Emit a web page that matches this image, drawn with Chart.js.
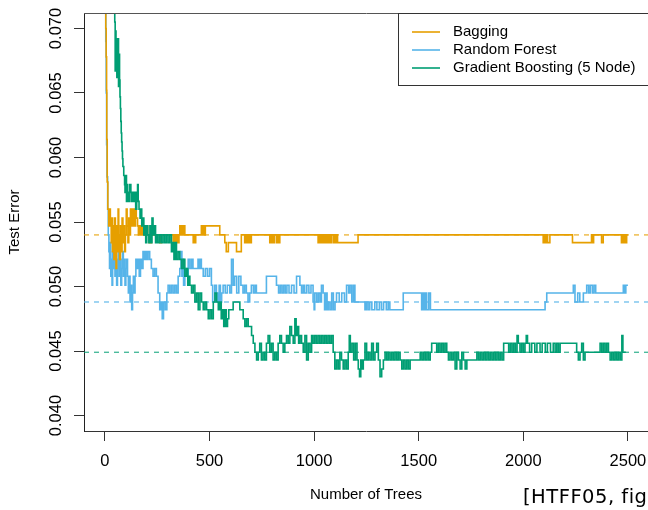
<!DOCTYPE html>
<html>
<head>
<meta charset="utf-8">
<script src="https://cdn.jsdelivr.net/npm/chart.js@4.4.1/dist/chart.umd.min.js"></script>
<style>
  html, body { margin: 0; padding: 0; background: #fff; overflow: hidden; }
</style>
</head>
<body>
<canvas id="errChart" width="648" height="510"></canvas>
<script>
// tick labels
var xTicks = [0, 500, 1000, 1500, 2000, 2500];
var yTicks = [0.040, 0.045, 0.050, 0.055, 0.060, 0.065, 0.070];

var seriesNames = ['Bagging', 'Random Forest', 'Gradient Boosting (5 Node)'];
var seriesColors = ['#E69F00', '#56B4E9', '#009E73'];
var refColors = ['rgba(230,159,0,0.75)', 'rgba(86,180,233,0.8)', 'rgba(0,158,115,0.7)'];
// drawing order: boosting on top, then bagging, random forest underneath
var seriesOrder = [2, 3, 1];

// dashed reference levels
var refLevels = [0.0540, 0.0488, 0.0449];

// [number of trees, test error] - step points
var bagging = [
  [1,0.0780],[4,0.0700],[6,0.0678],[8,0.0652],[9,0.0614],[11,0.0581],[14,0.0560],[18,0.0547],
  [22,0.0560],[26,0.0547],[30,0.0534],[33,0.0553],[36,0.0527],[40,0.0547],[43,0.0521],[46,0.0553],
  [50,0.0534],[53,0.0514],[56,0.0547],[60,0.0527],[63,0.0560],[66,0.0540],[70,0.0521],[74,0.0547],
  [78,0.0527],[82,0.0553],[86,0.0534],[90,0.0547],[94,0.0527],[98,0.0540],[102,0.0560],[106,0.0547],
  [110,0.0534],[114,0.0553],[118,0.0540],[122,0.0560],[126,0.0547],[130,0.0560],[134,0.0547],
  [138,0.0560],[142,0.0547],[146,0.0560],[150,0.0553],[156,0.0547],[160,0.0540],[164,0.0547],
  [168,0.0540],[172,0.0547],[176,0.0540],[182,0.0547],[188,0.0540],[196,0.0547],[204,0.0540],
  [212,0.0534],[222,0.0540],[262,0.0534],[270,0.0540],[326,0.0534],[330,0.0540],[334,0.0534],
  [338,0.0540],[342,0.0534],[346,0.0540],[350,0.0534],[354,0.0540],[358,0.0547],[364,0.0540],
  [368,0.0547],[374,0.0540],[378,0.0547],[382,0.0540],[422,0.0534],[426,0.0540],[430,0.0534],
  [434,0.0540],[461,0.0547],[466,0.0540],[470,0.0547],[475,0.0540],[480,0.0547],[549,0.0540],
  [573,0.0534],[580,0.0527],[590,0.0534],[629,0.0527],[652,0.0540],[668,0.0534],[672,0.0540],
  [676,0.0534],[682,0.0540],[686,0.0534],[692,0.0540],[696,0.0534],[700,0.0540],[788,0.0534],
  [792,0.0540],[796,0.0534],[800,0.0540],[805,0.0534],[810,0.0540],[820,0.0534],[826,0.0540],
  [830,0.0534],[836,0.0540],[1019,0.0534],[1024,0.0540],[1028,0.0534],[1034,0.0540],[1040,0.0534],
  [1046,0.0540],[1052,0.0534],[1058,0.0540],[1064,0.0534],[1070,0.0540],[1076,0.0534],[1082,0.0540],
  [1091,0.0534],[1096,0.0540],[1100,0.0534],[1106,0.0540],[1112,0.0534],[1210,0.0540],[2095,0.0534],
  [2100,0.0540],[2104,0.0534],[2110,0.0540],[2116,0.0534],[2127,0.0540],[2235,0.0534],[2326,0.0540],
  [2330,0.0534],[2336,0.0540],[2374,0.0534],[2382,0.0540],[2469,0.0534],[2474,0.0540],[2480,0.0534],
  [2486,0.0540],[2490,0.0534],[2494,0.0540],[2500,0.0540]
];

var randomForest = [
  [1,0.0800],[4,0.0690],[6,0.0650],[8,0.0610],[10,0.0585],[13,0.0560],[16,0.0540],[19,0.0527],
  [22,0.0514],[25,0.0534],[28,0.0508],[31,0.0521],[34,0.0501],[37,0.0527],[40,0.0514],[44,0.0534],
  [48,0.0508],[52,0.0521],[56,0.0501],[60,0.0514],[64,0.0527],[68,0.0508],[72,0.0521],[76,0.0501],
  [80,0.0514],[84,0.0527],[88,0.0508],[92,0.0521],[96,0.0501],[100,0.0514],[104,0.0521],[108,0.0508],
  [112,0.0495],[116,0.0508],[120,0.0488],[124,0.0501],[128,0.0482],[132,0.0495],[136,0.0508],
  [140,0.0495],[144,0.0508],[148,0.0521],[152,0.0514],[158,0.0521],[164,0.0508],[170,0.0521],
  [176,0.0514],[182,0.0527],[188,0.0521],[194,0.0527],[200,0.0521],[206,0.0527],[214,0.0521],
  [222,0.0514],[230,0.0508],[238,0.0514],[246,0.0508],[254,0.0495],[262,0.0482],[268,0.0488],
  [274,0.0475],[280,0.0488],[288,0.0482],[296,0.0495],[302,0.0501],[310,0.0495],[318,0.0501],
  [326,0.0495],[334,0.0501],[342,0.0495],[350,0.0508],[358,0.0514],[364,0.0527],[368,0.0508],
  [372,0.0521],[376,0.0501],[382,0.0514],[390,0.0508],[398,0.0521],[406,0.0514],[414,0.0521],
  [421,0.0514],[445,0.0521],[452,0.0514],[458,0.0521],[461,0.0514],[470,0.0508],[480,0.0514],
  [490,0.0508],[500,0.0514],[509,0.0501],[515,0.0488],[525,0.0501],[533,0.0495],[540,0.0488],
  [546,0.0501],[552,0.0488],[558,0.0495],[565,0.0501],[575,0.0495],[585,0.0501],[597,0.0495],
  [605,0.0521],[613,0.0501],[620,0.0508],[630,0.0495],[640,0.0508],[650,0.0501],[660,0.0495],
  [668,0.0501],[676,0.0495],[684,0.0488],[692,0.0495],[700,0.0501],[710,0.0495],[718,0.0501],
  [724,0.0495],[772,0.0508],[820,0.0501],[830,0.0495],[838,0.0501],[846,0.0495],[854,0.0501],
  [862,0.0495],[870,0.0501],[880,0.0495],[892,0.0501],[904,0.0495],[916,0.0508],[932,0.0501],
  [940,0.0495],[948,0.0501],[955,0.0495],[965,0.0501],[975,0.0495],[985,0.0501],[995,0.0488],
  [1000,0.0482],[1003,0.0495],[1012,0.0488],[1020,0.0495],[1028,0.0488],[1035,0.0501],[1043,0.0495],
  [1050,0.0482],[1056,0.0495],[1062,0.0482],[1068,0.0488],[1076,0.0482],[1084,0.0495],[1092,0.0482],
  [1100,0.0488],[1107,0.0495],[1120,0.0488],[1132,0.0495],[1145,0.0488],[1155,0.0501],[1165,0.0495],
  [1172,0.0501],[1180,0.0488],[1188,0.0501],[1195,0.0488],[1243,0.0482],[1250,0.0488],[1258,0.0482],
  [1266,0.0488],[1276,0.0482],[1290,0.0488],[1300,0.0482],[1312,0.0488],[1322,0.0482],[1332,0.0488],
  [1345,0.0482],[1354,0.0488],[1362,0.0482],[1426,0.0495],[1514,0.0482],[1520,0.0495],[1526,0.0482],
  [1532,0.0495],[1538,0.0482],[1548,0.0495],[1556,0.0482],[2104,0.0488],[2112,0.0495],[2239,0.0501],
  [2247,0.0488],[2260,0.0495],[2270,0.0488],[2287,0.0495],[2303,0.0501],[2312,0.0495],[2320,0.0501],
  [2330,0.0495],[2338,0.0501],[2346,0.0495],[2478,0.0501],[2484,0.0495],[2490,0.0501],[2500,0.0501]
];

var boosting = [
  [1,0.0850],[30,0.0760],[47,0.0705],[49,0.0667],[51,0.0698],[53,0.0680],[55,0.0692],[57,0.0662],
  [59,0.0686],[61,0.0673],[63,0.0692],[65,0.0655],[67,0.0680],[70,0.0660],[72,0.0647],[74,0.0638],
  [76,0.0628],[78,0.0619],[80,0.0612],[82,0.0605],[84,0.0599],[86,0.0593],[90,0.0586],[94,0.0579],
  [96,0.0573],[100,0.0586],[103,0.0566],[106,0.0579],[109,0.0566],[112,0.0573],[115,0.0566],
  [119,0.0579],[124,0.0573],[128,0.0566],[133,0.0573],[138,0.0566],[142,0.0573],[147,0.0560],
  [152,0.0573],[156,0.0579],[159,0.0566],[163,0.0560],[168,0.0553],[172,0.0560],[176,0.0547],
  [182,0.0553],[186,0.0540],[190,0.0547],[195,0.0534],[200,0.0547],[205,0.0540],[210,0.0534],
  [215,0.0547],[220,0.0534],[225,0.0553],[230,0.0540],[236,0.0547],[242,0.0534],[248,0.0540],
  [254,0.0534],[262,0.0540],[270,0.0534],[278,0.0540],[286,0.0534],[294,0.0540],[302,0.0534],
  [310,0.0540],[318,0.0527],[324,0.0534],[330,0.0521],[336,0.0534],[342,0.0521],[350,0.0527],
  [358,0.0521],[366,0.0514],[374,0.0521],[382,0.0508],[390,0.0514],[396,0.0501],[402,0.0508],
  [406,0.0501],[414,0.0495],[422,0.0501],[430,0.0488],[438,0.0495],[446,0.0482],[454,0.0495],
  [462,0.0488],[470,0.0482],[478,0.0488],[486,0.0482],[494,0.0475],[502,0.0482],[510,0.0475],
  [518,0.0488],[526,0.0495],[534,0.0488],[542,0.0482],[549,0.0488],[556,0.0475],[562,0.0482],
  [568,0.0469],[574,0.0482],[580,0.0469],[586,0.0475],[592,0.0482],[613,0.0488],[645,0.0482],
  [661,0.0475],[669,0.0469],[677,0.0475],[685,0.0469],[701,0.0462],[709,0.0456],[717,0.0449],
  [725,0.0443],[733,0.0449],[740,0.0456],[748,0.0443],[756,0.0449],[764,0.0443],[772,0.0456],
  [780,0.0462],[788,0.0449],[796,0.0456],[804,0.0443],[812,0.0449],[820,0.0443],[828,0.0456],
  [836,0.0462],[844,0.0456],[852,0.0449],[860,0.0456],[868,0.0462],[876,0.0456],[884,0.0469],
  [892,0.0462],[900,0.0456],[908,0.0475],[914,0.0462],[920,0.0469],[926,0.0456],[932,0.0462],
  [940,0.0456],[948,0.0449],[956,0.0462],[964,0.0443],[972,0.0456],[980,0.0449],[988,0.0462],
  [995,0.0456],[1003,0.0462],[1011,0.0456],[1019,0.0462],[1027,0.0456],[1035,0.0462],[1043,0.0456],
  [1051,0.0462],[1059,0.0456],[1067,0.0462],[1075,0.0456],[1083,0.0462],[1091,0.0449],[1099,0.0436],
  [1107,0.0443],[1115,0.0436],[1123,0.0449],[1131,0.0443],[1139,0.0436],[1147,0.0443],[1155,0.0436],
  [1163,0.0449],[1168,0.0462],[1173,0.0449],[1181,0.0456],[1189,0.0443],[1197,0.0456],[1205,0.0443],
  [1211,0.0436],[1217,0.0430],[1223,0.0443],[1229,0.0436],[1235,0.0443],[1243,0.0456],[1251,0.0443],
  [1259,0.0449],[1267,0.0443],[1275,0.0456],[1283,0.0443],[1291,0.0449],[1299,0.0456],[1307,0.0443],
  [1315,0.0430],[1323,0.0436],[1331,0.0443],[1339,0.0449],[1347,0.0443],[1355,0.0449],[1363,0.0443],
  [1371,0.0449],[1379,0.0443],[1387,0.0449],[1395,0.0443],[1403,0.0449],[1411,0.0443],[1419,0.0436],
  [1427,0.0443],[1435,0.0436],[1443,0.0443],[1451,0.0436],[1459,0.0443],[1507,0.0449],[1515,0.0443],
  [1523,0.0449],[1531,0.0443],[1539,0.0449],[1547,0.0443],[1555,0.0449],[1562,0.0456],[1586,0.0449],
  [1594,0.0456],[1602,0.0449],[1610,0.0456],[1618,0.0449],[1626,0.0456],[1634,0.0449],[1642,0.0443],
  [1650,0.0449],[1658,0.0443],[1666,0.0449],[1674,0.0436],[1682,0.0449],[1690,0.0443],[1698,0.0436],
  [1706,0.0449],[1714,0.0443],[1722,0.0436],[1730,0.0443],[1778,0.0449],[1786,0.0443],[1794,0.0449],
  [1802,0.0443],[1810,0.0449],[1818,0.0443],[1826,0.0449],[1834,0.0443],[1842,0.0449],[1850,0.0443],
  [1858,0.0449],[1866,0.0443],[1874,0.0449],[1882,0.0443],[1890,0.0449],[1898,0.0443],[1906,0.0456],
  [1930,0.0449],[1938,0.0456],[1946,0.0449],[1954,0.0456],[1962,0.0449],[1970,0.0462],[1976,0.0456],
  [1984,0.0449],[1992,0.0456],[2000,0.0449],[2008,0.0456],[2014,0.0462],[2020,0.0456],[2030,0.0449],
  [2040,0.0456],[2055,0.0449],[2065,0.0456],[2080,0.0449],[2090,0.0456],[2105,0.0449],[2115,0.0456],
  [2130,0.0449],[2143,0.0456],[2152,0.0449],[2160,0.0456],[2168,0.0449],[2176,0.0456],[2255,0.0449],
  [2263,0.0443],[2271,0.0449],[2279,0.0456],[2287,0.0443],[2295,0.0449],[2367,0.0456],[2375,0.0449],
  [2383,0.0456],[2391,0.0449],[2399,0.0456],[2407,0.0449],[2415,0.0443],[2423,0.0449],[2431,0.0443],
  [2439,0.0449],[2447,0.0443],[2455,0.0449],[2463,0.0443],[2471,0.0462],[2476,0.0449],[2490,0.0449]
];

var xMin = -100, xMax = 2596;
var yMin = 0.0388, yMax = 0.0712;

function toXY(arr) {
    return arr.map(function (p) { return { x: p[0], y: p[1] }; });
}

var lines = [bagging, randomForest, boosting];
var datasets = [];

// solid step lines
lines.forEach(function (arr, i) {
    datasets.push({
        label: seriesNames[i],
        data: toXY(arr),
        borderColor: seriesColors[i],
        borderWidth: 1.6,
        stepped: 'before',
        pointRadius: 0,
        fill: false,
        order: seriesOrder[i]
    });
});

// dashed reference levels across the whole plot
refLevels.forEach(function (v, i) {
    datasets.push({
        label: seriesNames[i] + ' level',
        data: [{ x: xMin, y: v }, { x: xMax, y: v }],
        borderColor: refColors[i],
        borderWidth: 1.4,
        borderDash: [5, 5],
        pointRadius: 0,
        fill: false,
        order: 10 + i
    });
});

// frame top, legend box and the source note
var extras = {
    id: 'extras',
    afterDatasetsDraw: function (chart) {
        var ctx = chart.ctx, a = chart.chartArea;
        ctx.save();
        ctx.strokeStyle = '#555';
        ctx.lineWidth = 1;
        ctx.beginPath();
        ctx.moveTo(a.left, a.top + 0.5);
        ctx.lineTo(a.right + 2, a.top + 0.5);
        ctx.stroke();

        var lx = 398.5, ly = a.top + 0.5;
        ctx.fillStyle = '#fff';
        ctx.fillRect(lx, ly, 260, 72);
        ctx.strokeStyle = '#333';
        ctx.strokeRect(lx, ly, 260, 72);
        ctx.font = '15px "Liberation Sans"';
        ctx.textBaseline = 'middle';
        seriesNames.forEach(function (name, i) {
            var y = 32 + i * 18;
            ctx.strokeStyle = seriesColors[i];
            ctx.lineWidth = 1.6;
            ctx.beginPath();
            ctx.moveTo(412, y);
            ctx.lineTo(440, y);
            ctx.stroke();
            ctx.fillStyle = '#000';
            ctx.fillText(name, 453, y);
        });
        ctx.restore();
    },
    afterDraw: function (chart) {
        var ctx = chart.ctx;
        ctx.save();
        ctx.font = '19.5px "DejaVu Sans"';
        ctx.letterSpacing = '0.5px';
        ctx.fillStyle = '#000';
        ctx.textBaseline = 'alphabetic';
        ctx.fillText('[HTFF05, fig', 523, 503);
        ctx.restore();
    }
};

var tickFont = { family: 'Liberation Sans', size: 16.5 };
var titleFont = { family: 'Liberation Sans', size: 15 };

var ctx = document.getElementById('errChart').getContext('2d');
var chart = new Chart(ctx, {
    type: 'line',
    data: { datasets: datasets },
    plugins: [extras],
    options: {
        responsive: false,
        animation: false,
        layout: { padding: { top: 13, left: 0, right: 0, bottom: 0 } },
        plugins: {
            legend: { display: false },
            tooltip: { enabled: false }
        },
        scales: {
            x: {
                type: 'linear',
                min: xMin,
                max: xMax,
                afterBuildTicks: function (s) {
                    s.ticks = xTicks.map(function (v) { return { value: v }; });
                },
                afterFit: function (s) {
                    s.height = 79;
                    s.paddingLeft = 0;
                    s.paddingRight = 0;
                },
                grid: { drawOnChartArea: false, drawTicks: true, tickLength: 10, color: '#333' },
                border: { display: true, color: '#333', width: 1 },
                ticks: {
                    font: tickFont, color: '#000', padding: 11, maxRotation: 0, autoSkip: false,
                    callback: function (v) { return String(v); }
                },
                title: {
                    display: true, text: 'Number of Trees', font: titleFont, color: '#000',
                    padding: { top: 0, bottom: 6 }
                }
            },
            y: {
                type: 'linear',
                min: yMin,
                max: yMax,
                afterBuildTicks: function (s) {
                    s.ticks = yTicks.map(function (v) { return { value: v }; });
                },
                afterFit: function (s) {
                    s.width = 84;
                    s.paddingTop = 0;
                    s.paddingBottom = 0;
                },
                grid: { drawOnChartArea: false, drawTicks: true, tickLength: 10, color: '#333' },
                border: { display: true, color: '#222', width: 1 },
                ticks: {
                    font: tickFont, color: '#000', padding: -3, minRotation: 90, maxRotation: 90,
                    crossAlign: 'center', autoSkip: false,
                    callback: function (v) { return v.toFixed(3); }
                },
                title: {
                    display: true, text: 'Test Error', font: titleFont, color: '#000',
                    padding: { top: 6, bottom: 0 }
                }
            }
        }
    }
});
</script>
</body>
</html>
